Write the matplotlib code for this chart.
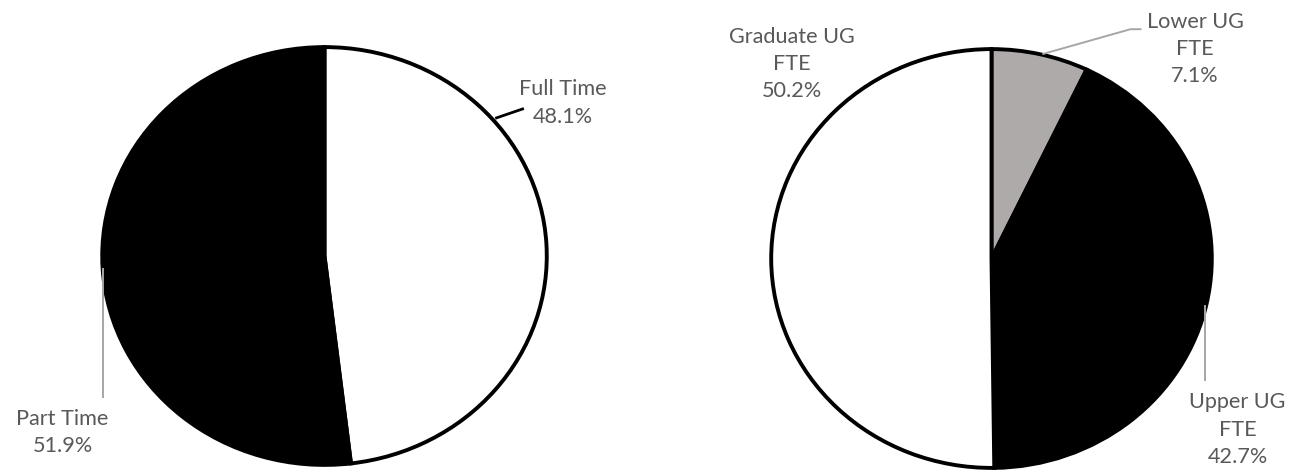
import matplotlib
matplotlib.use("Agg")
import matplotlib.pyplot as plt
import numpy as np

# Data
left_labels = ["Full Time", "Part Time"]
left_values = [48.1, 51.9]
left_colors = ["#FFFFFF", "#000000"]

right_labels = ["Lower UG\nFTE", "Upper UG\nFTE", "Graduate UG\nFTE"]
right_values = [7.1, 42.7, 50.2]
right_colors = ["#AEAAAA", "#000000", "#FFFFFF"]

W, H = 1289, 471
fig = plt.figure(figsize=(W / 100, H / 100), dpi=100)
fig.patch.set_facecolor("white")

FONT = ["Lato", "DejaVu Sans"]
TXT = "#595959"
FS = 15.6


def make_axes(x0, x1, ytop, ybot):
    return fig.add_axes([x0 / W, (H - ybot) / H, (x1 - x0) / W, (ybot - ytop) / H])


def draw_pie(ax, values, colors):
    ax.pie(values, colors=colors, startangle=90, counterclock=False,
           wedgeprops=dict(edgecolor="black", linewidth=2.8), radius=1.0)
    ax.set_aspect("auto")
    ax.set_xlim(-1.01, 1.01)
    ax.set_ylim(-1.01, 1.01)
    ax.axis("off")


def label(ax, text, pos, line, lcolor):
    if line:
        xs, ys = zip(*line)
        ax.plot(xs, ys, color=lcolor, lw=1.4 if lcolor != "black" else 2.0,
                clip_on=False, solid_capstyle="butt")
    ax.text(pos[0], pos[1], text, ha="center", va="center", color=TXT,
            fontsize=FS, family=FONT, linespacing=1.46, clip_on=False)


# Left pie
axL = make_axes(100, 549, 45, 467)
draw_pie(axL, left_values, left_colors)
label(axL, f"{left_labels[0]}\n{left_values[0]:.1f}%", (1.071, 0.732),
      [(0.768, 0.659), (0.897, 0.706)], "black")
label(axL, f"{left_labels[1]}\n{left_values[1]:.1f}%", (-1.178, -0.845),
      [(-0.995, -0.057), (-0.995, -0.682)], "#A6A6A6")

# Right pie
axR = make_axes(769, 1214, 47, 470)
draw_pie(axR, right_values, right_colors)
label(axR, f"{right_labels[0]}\n{right_values[0]:.1f}%", (0.924, 1.0),
      [(0.231, 0.976), (0.631, 1.095), (0.681, 1.095)], "#A6A6A6")
label(axR, f"{right_labels[1]}\n{right_values[1]:.1f}%", (1.117, -0.818),
      [(0.969, -0.220), (0.969, -0.584)], "#A6A6A6")
label(axR, f"{right_labels[2]}\n{right_values[2]:.1f}%", (-0.906, 0.929),
      [], "#A6A6A6")

fig.savefig("out.png", dpi=100, facecolor="white")
